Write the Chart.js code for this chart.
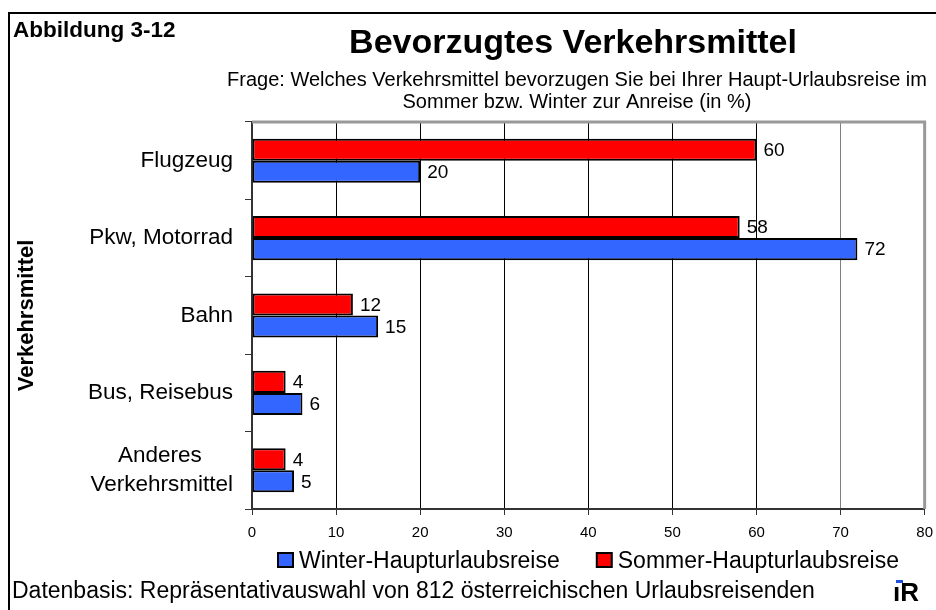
<!DOCTYPE html>
<html lang="de">
<head>
  <meta charset="UTF-8" />
  <title>Bevorzugtes Verkehrsmittel</title>
  <script src="https://cdn.jsdelivr.net/npm/chart.js@4.4.1/dist/chart.umd.min.js"></script>
  <style>
    body { margin: 0; background: #fff; }
    canvas { display: block; }
  </style>
</head>
<body>
  <canvas id="chart" width="936" height="610"></canvas>

  <script>
    // data
    const categories = ['Flugzeug', 'Pkw, Motorrad', 'Bahn', 'Bus, Reisebus',
                        ['Anderes\u00a0\u00a0\u00a0\u00a0\u00a0', 'Verkehrsmittel']];
    const sommer = [60, 58, 12, 4, 4];
    const winter = [20, 72, 15, 6, 5];
    const seriesNames = ['Sommer-Haupturlaubsreise', 'Winter-Haupturlaubsreise'];
    const xMin = 0, xMax = 80, xStep = 10;

    const title = 'Bevorzugtes Verkehrsmittel';
    const subtitle = ['Frage: Welches Verkehrsmittel bevorzugen Sie bei Ihrer Haupt-Urlaubsreise im',
                      'Sommer bzw. Winter zur Anreise (in %)'];
    const figureNo = 'Abbildung 3-12';
    const footer = 'Datenbasis: Repräsentativauswahl von 812 österreichischen Urlaubsreisenden';

    Chart.defaults.font.family = '"Liberation Sans", Arial, sans-serif';
    Chart.defaults.color = '#000';

    // numbers next to the bar ends
    const valueLabels = {
      id: 'valueLabels',
      afterDatasetsDraw(chart) {
        const ctx = chart.ctx;
        ctx.save();
        ctx.font = '19px "Liberation Sans", Arial, sans-serif';
        ctx.fillStyle = '#000';
        ctx.textAlign = 'left';
        ctx.textBaseline = 'middle';
        chart.data.datasets.forEach((ds, i) => {
          chart.getDatasetMeta(i).data.forEach((bar, j) => {
            ctx.fillText(ds.data[j], bar.x + 7, bar.y + 1);
          });
        });
        ctx.restore();
      }
    };

    // frame, texts, legend, logo
    const decorations = {
      id: 'decorations',
      beforeDatasetsDraw(chart) {
        const ctx = chart.ctx;
        const a = chart.chartArea;
        ctx.save();
        ctx.strokeStyle = '#999';
        ctx.lineWidth = 3;
        ctx.beginPath();
        ctx.moveTo(a.left, a.top);
        ctx.lineTo(a.right, a.top);
        ctx.lineTo(a.right, a.bottom);
        ctx.stroke();
        ctx.restore();
      },
      afterDraw(chart) {
        const ctx = chart.ctx;
        const font = '"Liberation Sans", Arial, sans-serif';
        ctx.save();
        // outer frame
        ctx.strokeStyle = '#000';
        ctx.lineWidth = 2;
        ctx.strokeRect(9, 13, 940, 620);

        ctx.fillStyle = '#000';
        ctx.textBaseline = 'middle';
        ctx.textAlign = 'left';
        ctx.font = 'bold 22.5px ' + font;
        ctx.fillText(figureNo, 13, 31);

        ctx.textAlign = 'center';
        ctx.font = 'bold 34px ' + font;
        ctx.fillText(title, 573, 44);
        ctx.font = '20px ' + font;
        ctx.fillText(subtitle[0], 577, 80);
        ctx.fillText(subtitle[1], 577, 102);

        // legend, winter first
        ctx.textAlign = 'left';
        ctx.font = '23px ' + font;
        let x = 278;
        const y = 560;
        chart.data.datasets.slice().reverse().forEach(ds => {
          ctx.fillStyle = ds.backgroundColor;
          ctx.fillRect(x, y - 7, 15, 14);
          ctx.strokeStyle = '#000';
          ctx.lineWidth = 2;
          ctx.strokeRect(x, y - 7, 15, 14);
          ctx.fillStyle = '#000';
          ctx.fillText(ds.label, x + 21, y + 2);
          x += 21 + ctx.measureText(ds.label).width + 37;
        });

        ctx.fillText(footer, 12, 592);

        // small logo
        ctx.font = 'bold 26px ' + font;
        ctx.fillText('\u0131R', 893, 594);
        ctx.fillStyle = '#2050e0';
        ctx.fillRect(896, 580, 7, 3);
        ctx.restore();
      }
    };

    const chart = new Chart(document.getElementById('chart'), {
      type: 'bar',
      data: {
        labels: categories,
        datasets: [
          { label: seriesNames[0], data: sommer, backgroundColor: '#ff0000' },
          { label: seriesNames[1], data: winter, backgroundColor: '#3366ff' }
        ]
      },
      options: {
        indexAxis: 'y',
        responsive: false,
        animation: false,
        devicePixelRatio: 1,
        layout: { padding: { left: 0, top: 122, right: 3, bottom: 71 } },
        datasets: {
          bar: {
            borderColor: '#000',
            borderWidth: 2,
            borderSkipped: false,
            categoryPercentage: 0.57,
            barPercentage: 1.0
          }
        },
        plugins: {
          legend: { display: false },
          tooltip: { enabled: false }
        },
        scales: {
          x: {
            min: xMin,
            max: xMax,
            afterFit: s => { s.height = 30; },
            ticks: { stepSize: xStep, font: { size: 15, lineHeight: 2.0 }, padding: 3, color: '#000' },
            grid: {
              color: c => (c.tick && c.tick.value === 70) ? '#808080' : '#000',
              lineWidth: 1,
              tickLength: 6,
              tickColor: '#333'
            },
            border: { color: '#333', width: 2 }
          },
          y: {
            afterFit: s => { s.width = 252; },
            ticks: { font: { size: 22.5, lineHeight: 1.25 }, padding: 12, color: '#000' },
            grid: { drawOnChartArea: false, tickLength: 7, color: '#333' },
            border: { color: '#333', width: 2 },
            title: {
              display: true,
              text: 'Verkehrsmittel',
              font: { size: 22, weight: 'bold' },
              padding: { top: 14, bottom: 0 },
              color: '#000'
            }
          }
        }
      },
      plugins: [valueLabels, decorations]
    });
  </script>
</body>
</html>
